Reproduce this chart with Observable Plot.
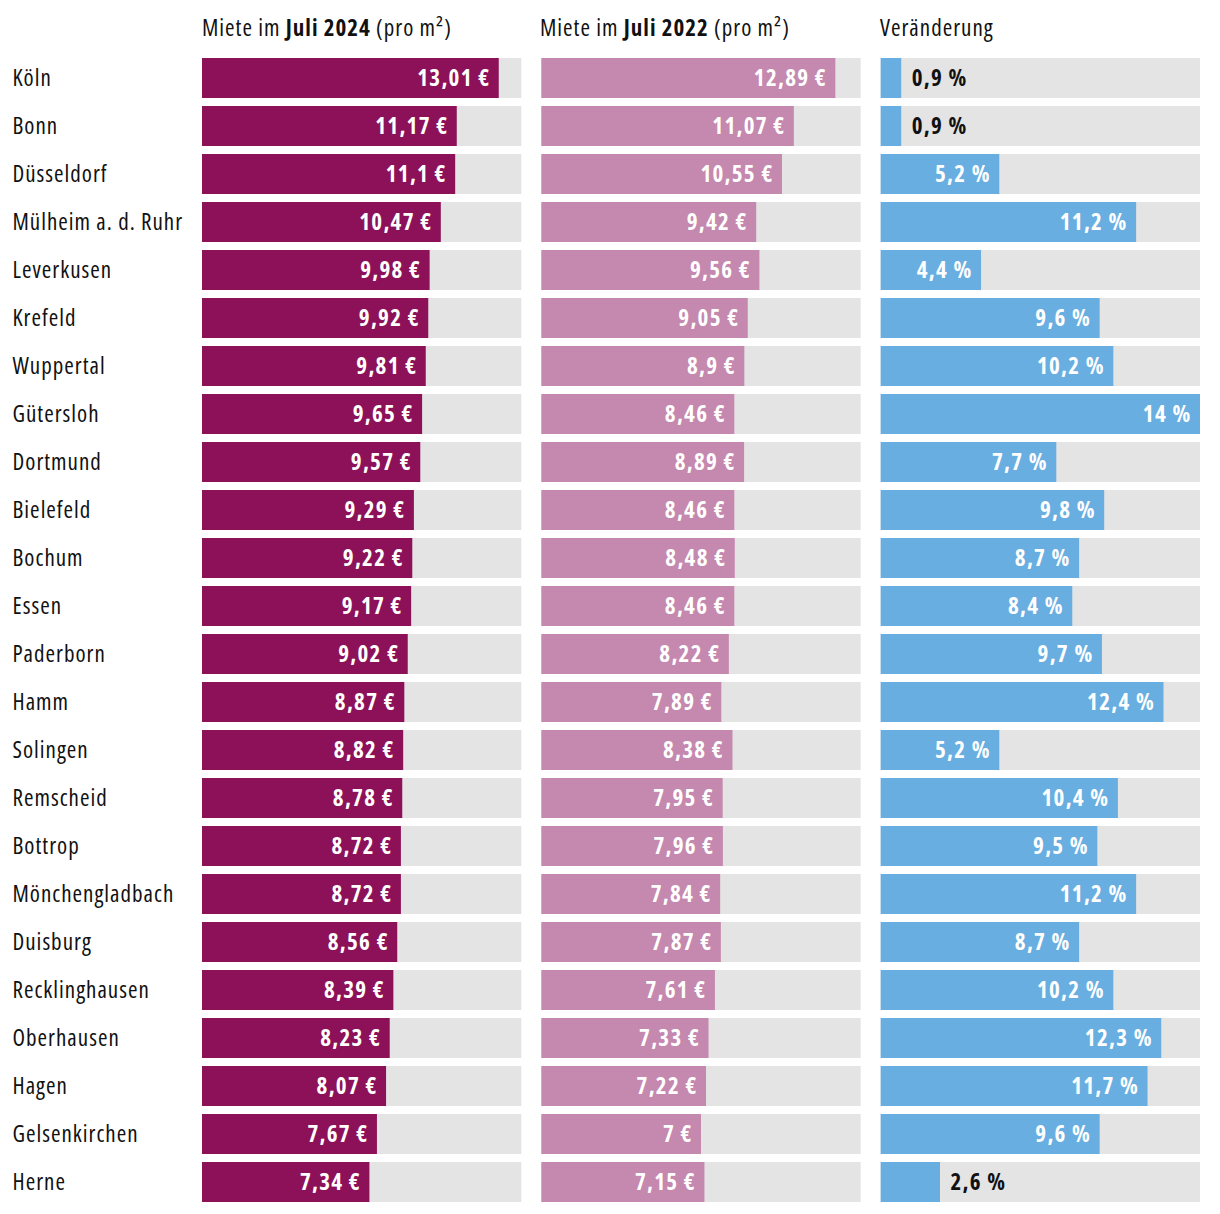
<!DOCTYPE html>
<html>
<head>
<meta charset="utf-8">
<script src="https://cdn.jsdelivr.net/npm/d3@7"></script>
<script src="https://cdn.jsdelivr.net/npm/@observablehq/plot@0.6"></script>
<style>
  html, body { margin: 0; padding: 0; background: #fff; }
  body { width: 1220px; height: 1214px; font-family: "Open Sans", sans-serif; font-stretch: condensed; letter-spacing: 1px; color: #111; }
  #header { position: relative; height: 50px; font-size: 23px; }
  #header div { position: absolute; top: 11px; white-space: nowrap; }
  #chart svg { display: block; }
  #chart svg text { font-stretch: condensed; letter-spacing: 1px; }
  #chart svg .vlabel text { letter-spacing: 1.3px; }
</style>
</head>
<body>
<div id="header">
  <div style="left:202px">Miete im <b>Juli 2024</b> (pro m²)</div>
  <div style="left:540px">Miete im <b>Juli 2022</b> (pro m²)</div>
  <div style="left:880px">Veränderung</div>
</div>
<div id="chart"></div>
<script>
const cities = ["Köln","Bonn","Düsseldorf","Mülheim a. d. Ruhr","Leverkusen","Krefeld","Wuppertal","Gütersloh","Dortmund","Bielefeld","Bochum","Essen","Paderborn","Hamm","Solingen","Remscheid","Bottrop","Mönchengladbach","Duisburg","Recklinghausen","Oberhausen","Hagen","Gelsenkirchen","Herne"];
const rent2024 = [13.01,11.17,11.1,10.47,9.98,9.92,9.81,9.65,9.57,9.29,9.22,9.17,9.02,8.87,8.82,8.78,8.72,8.72,8.56,8.39,8.23,8.07,7.67,7.34];
const rent2022 = [12.89,11.07,10.55,9.42,9.56,9.05,8.9,8.46,8.89,8.46,8.48,8.46,8.22,7.89,8.38,7.95,7.96,7.84,7.87,7.61,7.33,7.22,7,7.15];
const change = [0.9,0.9,5.2,11.2,4.4,9.6,10.2,14,7.7,9.8,8.7,8.4,9.7,12.4,5.2,10.4,9.5,11.2,8.7,10.2,12.3,11.7,9.6,2.6];
const columns = ["2024","2022","change"];
const colors = {"2024":"#8c1159","2022":"#c588ae","change":"#69aee1"};
const units = {"2024":" €","2022":" €","change":" %"};
const maxValue = 14;

const fmt = v => String(v).replace(".", ",");
const data = [];
cities.forEach((c, i) => {
  [[ "2024", rent2024[i]], ["2022", rent2022[i]], ["change", change[i]]].forEach(([col, v]) => {
    data.push({city: c, col, value: v, label: fmt(v) + units[col]});
  });
});
const bg = [];
cities.forEach(c => columns.forEach(col => bg.push({city: c, col, value: maxValue})));

const font = '"Open Sans", sans-serif';
const chart = Plot.plot({
  width: 1220,
  height: 1164,
  marginLeft: 202,
  marginRight: 20,
  marginTop: 0,
  marginBottom: 4,
  style: {fontFamily: font, fontSize: "23px", color: "#111"},
  fx: {domain: columns, axis: null, paddingInner: 0.059, paddingOuter: 0, round: false},
  x: {domain: [0, maxValue], axis: null},
  y: {domain: cities, padding: 1/6, axis: null, round: false},
  marks: [
    Plot.barX(bg, {fx: "col", y: "city", x: "value", fill: "#e4e4e4"}),
    Plot.barX(data, {fx: "col", y: "city", x: "value", fill: d => colors[d.col]}),
    Plot.text(data.filter(d => d.value >= 3), {fx: "col", y: "city", x: "value", text: "label", textAnchor: "end", dx: -9, fill: "white", fontWeight: "bold", fontSize: 23, className: "vlabel"}),
    Plot.text(data.filter(d => d.value < 3), {fx: "col", y: "city", x: "value", text: "label", textAnchor: "start", dx: 10, fill: "#111", fontWeight: "bold", fontSize: 23, className: "vlabel"}),
    Plot.axisY({anchor: "left", label: null, tickSize: 0, tickPadding: 0, textAnchor: "start", dx: -190, fontSize: 23, fill: "#111"})
  ]
});
document.getElementById("chart").appendChild(chart);
</script>
</body>
</html>
